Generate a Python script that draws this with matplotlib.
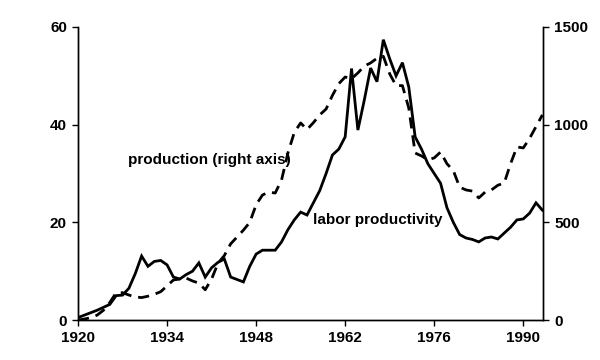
import numpy as np
import matplotlib.pyplot as plt

plt.rcParams['font.family'] = ['Liberation Sans', 'DejaVu Sans']
plt.rcParams['font.weight'] = 'bold'

years = np.arange(1920, 1994)

# labor productivity (left axis)
productivity = [
    0.5, 1.0, 1.5, 2.0, 2.6, 3.2, 5.0, 5.1, 6.5, 9.5,
    13.1, 11.0, 12.0, 12.2, 11.3, 8.8, 8.4, 9.3, 10.0, 11.7,
    8.8, 10.7, 11.8, 12.5, 8.8, 8.3, 7.8, 11.0, 13.5, 14.3,
    14.3, 14.3, 16.0, 18.5, 20.5, 22.1, 21.5, 24.0, 26.5, 30.0,
    33.8, 35.0, 37.5, 51.5, 38.9, 45.0, 51.6, 48.8, 57.4, 53.5,
    50.0, 52.7, 47.7, 37.5, 35.0, 32.0, 30.0, 28.0, 23.0, 20.0,
    17.5, 16.8, 16.5, 16.0, 16.8, 17.0, 16.6, 17.8, 19.0, 20.5,
    20.7, 21.9, 24.0, 22.5,
]

# production (right axis)
production = [
    0, 5, 12, 25, 50, 90, 140, 140, 128, 118,
    115, 122, 132, 145, 175, 205, 210, 215, 200, 189,
    155, 210, 290, 330, 390, 425, 460, 500, 590, 640,
    655, 650, 717, 855, 960, 1009, 975, 1010, 1050, 1080,
    1150, 1210, 1244, 1235, 1265, 1300, 1316, 1340, 1350, 1260,
    1200, 1200, 1085, 855, 840, 820, 830, 860, 800, 765,
    680, 666, 660, 625, 655, 666, 690, 701, 800, 886,
    881, 930, 990, 1050,
]

x_ticks = [1920, 1934, 1948, 1962, 1976, 1990]

fig = plt.figure(figsize=(6, 3.6), dpi=100)
ax = fig.add_axes([0.13, 0.111, 0.775, 0.814])
ax2 = ax.twinx()

ax.plot(years, productivity, color='black', lw=2.0, solid_joinstyle='miter')
ax2.plot(years, production, color='black', lw=2.0, dashes=(4, 2.5))

ax.set_xlim(1920, 1993.1)
ax.set_ylim(0, 60)
ax2.set_ylim(0, 1500)
ax.set_xticks(x_ticks)
ax.set_yticks([0, 20, 40, 60])
ax2.set_yticks([0, 500, 1000, 1500])

for a in (ax, ax2):
    a.spines['top'].set_visible(False)
    for s in a.spines.values():
        s.set_linewidth(1.0)
    a.tick_params(direction='out', length=4, width=1, labelsize=11, pad=4)

fig.text(128 / 600, 1 - 160 / 360, 'production (right axis)', fontsize=11,
         fontweight='bold', va='center', ha='left')
fig.text(313 / 600, 1 - 220 / 360, 'labor productivity', fontsize=11,
         fontweight='bold', va='center', ha='left')

fig.savefig('out.png', dpi=100)
